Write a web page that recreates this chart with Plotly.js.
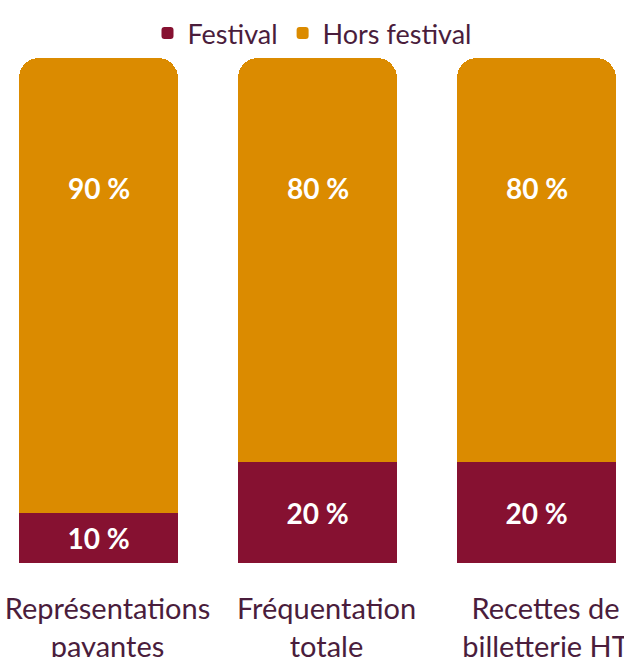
<!DOCTYPE html>
<html>
<head>
<meta charset="utf-8">
<script src="https://cdn.plot.ly/plotly-3.0.1.min.js"></script>
<style>html,body{margin:0;padding:0;background:#fff;}#chart{width:624px;height:657px;}</style>
</head>
<body>
<div id="chart"></div>
<script>
var categories = ["Représentations<br>payantes", "Fréquentation<br>totale", "Recettes de<br>billetterie HT"];
var festival = [10, 20, 20];
var horsFestival = [90, 80, 80];
var seriesNames = ["Festival", "Hors festival"];
var colors = ["#861131", "#DB8B00"];

var xpos = categories.map(function(c, i){ return i; });
var font = "Lato, 'Open Sans', sans-serif";

var traces = [
  {
    type: "bar", name: seriesNames[0], x: xpos, y: festival,
    marker: {color: colors[0]}, width: 0.726,
    text: festival.map(function(v){ return v + " %"; }),
    textposition: "inside", insidetextanchor: "middle",
    textfont: {family: font, size: 28, color: "#ffffff", weight: "bold"},
    hoverinfo: "none"
  },
  {
    type: "bar", name: seriesNames[1], x: xpos, y: horsFestival,
    marker: {color: colors[1]}, width: 0.726,
    textposition: "none",
    hoverinfo: "none"
  }
];

var annotations = horsFestival.map(function(v, i){
  return {
    x: xpos[i], y: 74.3, xref: "x", yref: "y",
    text: v + " %", showarrow: false,
    font: {family: font, size: 28, color: "#ffffff", weight: "bold"}
  };
});

var layout = {
  width: 624, height: 657,
  margin: {l: 0, r: 0, t: 58, b: 94},
  paper_bgcolor: "#ffffff", plot_bgcolor: "#ffffff",
  barmode: "stack",
  barcornerradius: 20,
  showlegend: true,
  legend: {
    orientation: "h", x: 0.5, xanchor: "center", y: 1.0, yanchor: "bottom",
    yref: "paper",
    font: {family: font, size: 27, color: "#4a1d3c"},
    traceorder: "normal", itemwidth: 30
  },
  xaxis: {
    range: [-0.4498, 2.3995],
    tickvals: xpos, ticktext: categories,
    ticklabelshift: 9,
    ticklabelstandoff: 26,
    ticklabeloverflow: "allow",
    showgrid: false, zeroline: false, showline: false, ticks: "",
    tickfont: {family: font, size: 29, color: "#4a1d3c"},
    fixedrange: true
  },
  yaxis: {
    range: [0, 100], visible: false, fixedrange: true
  },
  annotations: annotations
};

Plotly.newPlot("chart", traces, layout, {displayModeBar: false, staticPlot: true});
</script>
</body>
</html>
